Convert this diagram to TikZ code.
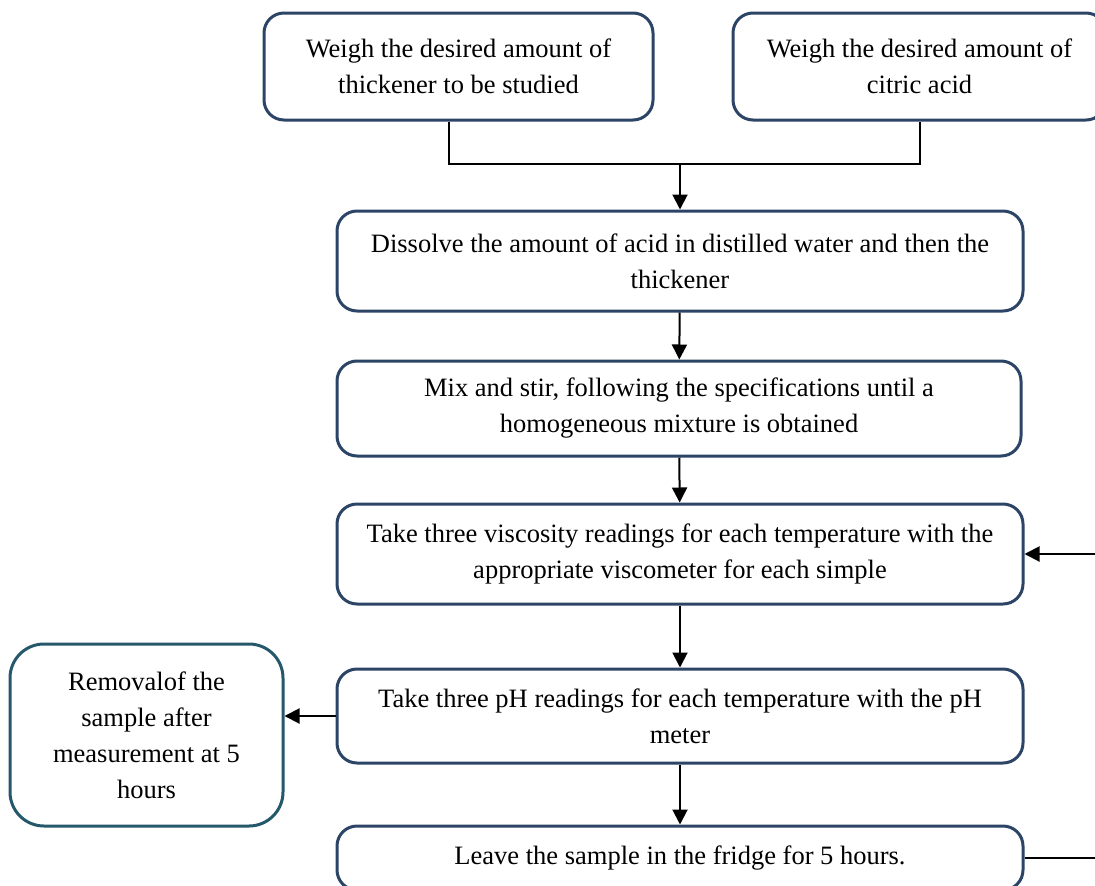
\documentclass[tikz,border=0pt]{standalone}
\usepackage{fontspec}
\setmainfont{Liberation Serif}
\usetikzlibrary{arrows.meta}

\definecolor{boxblue}{RGB}{44,68,102}
\definecolor{boxteal}{RGB}{36,88,106}

\tikzstyle{stage} = [draw=boxblue, line width=3pt, rounded corners=20pt, align=center, inner sep=0pt, font=\fontsize{26.5}{36}\selectfont]
\tikzstyle{side} = [stage, draw=boxteal, rounded corners=34pt]
\tikzstyle{wire} = [line width=2pt]
\tikzstyle{flow} = [wire, -{Triangle[length=15pt,width=15pt]}]

\begin{document}
\begin{tikzpicture}[x=1pt, y=-1pt]
\useasboundingbox (0,0) rectangle (1095,886);
\clip (0,0) rectangle (1095,886);

% weighing
\node[stage, minimum width=389pt, minimum height=107pt] (thick) at (458.5,66.5)
    {Weigh the desired amount of\\thickener to be studied};
\node[stage, minimum width=373pt, minimum height=107pt] (acid) at (919.5,66.5)
    {Weigh the desired amount of\\citric acid};
\coordinate (join) at (680,164);

% preparation
\node[stage, minimum width=686pt, minimum height=100pt] (dissolve) at (680,261)
    {Dissolve the amount of acid in distilled water and then the\\thickener};
\node[stage, minimum width=684pt, minimum height=95pt] (mix) at (679,408.5)
    {Mix and stir, following the specifications until a\\homogeneous mixture is obtained};

% measurements
\node[stage, minimum width=686pt, minimum height=100pt] (visc) at (680,554)
    {Take three viscosity readings for each temperature with the\\appropriate viscometer for each simple};
\node[stage, minimum width=686pt, minimum height=94pt] (ph) at (680,716)
    {Take three pH readings for each temperature with the pH\\meter};
\node[side, minimum width=273pt, minimum height=182pt] (removal) at (146.5,735)
    {Removalof the\\sample after\\measurement at 5\\hours};
\node[stage, minimum width=686pt, minimum height=64pt] (fridge) at (680,858)
    {Leave the sample in the fridge for 5 hours.};

% connectors
\draw[wire] ([xshift=-9.5pt]thick.south) |- (join) -| (acid.south);
\draw[flow] (join) -- (dissolve.north);
\draw[flow] (dissolve) -- (mix);
\draw[flow] (mix) -- (visc);
\draw[flow] (visc) -- (ph);
\draw[flow] (ph.west) -- (ph.west -| removal.east);
\draw[flow] (ph) -- (fridge);
\draw[flow] (fridge.east) -- ++(90,0) |- (visc.east);
\end{tikzpicture}
\end{document}
